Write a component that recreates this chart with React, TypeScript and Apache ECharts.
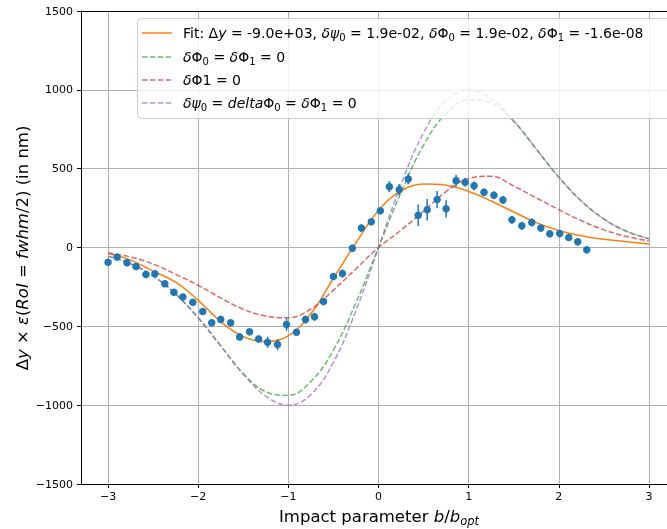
import { useEffect, useRef } from "react";
import * as echarts from "echarts";

// ---- data ----
const pointX = [-3.0, -2.9, -2.79, -2.69, -2.58, -2.48, -2.37, -2.27, -2.17, -2.06, -1.95, -1.85, -1.75, -1.64, -1.54, -1.43, -1.33, -1.23, -1.12, -1.02, -0.91, -0.81, -0.71, -0.61, -0.5, -0.4, -0.29, -0.19, -0.08, 0.02, 0.12, 0.23, 0.33, 0.44, 0.54, 0.65, 0.75, 0.86, 0.96, 1.06, 1.17, 1.28, 1.38, 1.48, 1.59, 1.7, 1.8, 1.9, 2.01, 2.11, 2.21, 2.31];
const pointY = [-94, -61, -96, -121, -171, -167, -230, -284, -314, -347, -406, -478, -456, -478, -567, -535, -580, -601, -616, -488, -538, -457, -439, -343, -184, -165, -4, 123, 163, 233, 386, 367, 435, 204, 240, 304, 245, 424, 414, 391, 350, 331, 302, 176, 138, 159, 123, 87, 89, 63, 36, -15];
const pointErr = [20, 20, 20, 20, 20, 20, 20, 20, 20, 20, 20, 20, 20, 20, 20, 20, 22, 35, 35, 40, 22, 25, 25, 22, 22, 25, 20, 25, 22, 22, 35, 35, 35, 68, 68, 55, 55, 38, 28, 28, 25, 25, 25, 25, 25, 25, 22, 22, 22, 22, 22, 22];

const curveX = [-3, -2.75, -2.5, -2.25, -2, -1.75, -1.5, -1.25, -1, -0.75, -0.5, -0.25, 0, 0.25, 0.5, 0.75, 1, 1.25, 1.5, 1.75, 2, 2.25, 2.5, 2.75, 3];
const fitY = [-37, -80, -150, -220, -335, -470, -565, -597, -560, -420, -195, 30, 235, 360, 402, 395, 355, 295, 225, 158, 108, 75, 52, 37, 22];
const greenY = [-55, -103, -181, -295, -446, -624, -800, -915, -938, -850, -650, -350, 0, 350, 650, 850, 938, 915, 800, 624, 446, 295, 181, 103, 55];
const redY = [-35, -60, -105, -170, -240, -320, -392, -435, -445, -390, -270, -135, 0, 110, 230, 355, 438, 452, 390, 315, 240, 170, 112, 70, 42];
const purpleY = [-55, -103, -181, -295, -446, -624, -803, -943, -1000, -933, -728, -400, 0, 400, 728, 933, 1000, 943, 803, 624, 446, 295, 181, 103, 55];

const xTicks = [-3, -2, -1, 0, 1, 2, 3];
const yTicks = [-1500, -1000, -500, 0, 500, 1000, 1500];

const FONT = "DejaVu Sans";
const C_BLUE = "#1f77b4";
const C_ORANGE = "#ff7f0e";
const C_GREEN = "#2ca02c";
const C_RED = "#d62728";
const C_PURPLE = "#9467bd";
const DASH = [5.5, 2.4];

const fmt = (v: number) => (v < 0 ? "\u2212" + Math.abs(v) : String(v));
const zip = (xs: number[], ys: number[]) => xs.map((x, i) => [x, ys[i]]);

const legendRich = (size: number, sub: number) => ({
  n: { fontSize: size, fontFamily: FONT, color: "#000", lineHeight: 18 },
  i: { fontSize: size, fontFamily: FONT, color: "#000", fontStyle: "italic", lineHeight: 18 },
  s: { fontSize: sub, fontFamily: FONT, color: "#000", lineHeight: 7, verticalAlign: "bottom" },
  si: { fontSize: sub, fontFamily: FONT, color: "#000", fontStyle: "italic", lineHeight: 7, verticalAlign: "bottom" },
});

export default function App() {
  const ref = useRef<HTMLDivElement>(null);
  useEffect(() => {
    const chart = echarts.init(ref.current!, null, { renderer: "svg" });
    const rich14 = legendRich(14, 10);
    const legendRows = [
      { y: 33, color: C_ORANGE, dash: null, opacity: 1, text: "{n|Fit: Δ}{i|y}{n| = -9.0e+03, }{i|δψ}{s|0}{n| = 1.9e-02, }{i|δ}{n|Φ}{s|0}{n| = 1.9e-02, }{i|δ}{n|Φ}{s|1}{n| = -1.6e-08}" },
      { y: 57, color: C_GREEN, dash: DASH, opacity: 0.7, text: "{i|δ}{n|Φ}{s|0}{n| = }{i|δ}{n|Φ}{s|1}{n| = 0}" },
      { y: 80, color: C_RED, dash: DASH, opacity: 0.7, text: "{i|δ}{n|Φ1 = 0}" },
      { y: 103, color: C_PURPLE, dash: DASH, opacity: 0.7, text: "{i|δψ}{s|0}{n| = }{i|delta}{n|Φ}{s|0}{n| = }{i|δ}{n|Φ}{s|1}{n| = 0}" },
    ];
    const graphics: any[] = [
      {
        type: "rect",
        z: 100,
        shape: { x: 137.5, y: 18.5, width: 545, height: 100, r: 4 },
        style: { fill: "rgba(255,255,255,0.8)", stroke: "#cccccc", lineWidth: 1 },
      },
    ];
    legendRows.forEach((r) => {
      graphics.push({
        type: "line",
        z: 101,
        shape: { x1: 142, y1: r.y, x2: 172, y2: r.y },
        style: { stroke: r.color, lineWidth: 1.5, lineDash: r.dash || undefined, opacity: r.opacity },
      });
      graphics.push({
        type: "text",
        z: 101,
        x: 183,
        y: r.y,
        style: { text: r.text, rich: rich14, align: "left", verticalAlign: "middle" },
      });
    });
    const rich16 = {
      n: { fontSize: 16.5, fontFamily: FONT, color: "#000", lineHeight: 22 },
      i: { fontSize: 16.5, fontFamily: FONT, color: "#000", fontStyle: "italic", lineHeight: 22 },
      si: { fontSize: 11.5, fontFamily: FONT, color: "#000", fontStyle: "italic", lineHeight: 8, verticalAlign: "bottom" },
    };
    graphics.push({
      type: "text",
      x: 379,
      y: 516,
      style: { text: "{n|Impact parameter }{i|b}{n|/}{i|b}{si|opt}", rich: rich16, align: "center", verticalAlign: "middle" },
    });
    graphics.push({
      type: "text",
      x: 22,
      y: 248,
      rotation: Math.PI / 2,
      style: { text: "{n|Δ}{i|y}{n| × }{i|ε}{n|(}{i|RoI}{n| = }{i|fwhm}{n|/2) (in nm)}", rich: rich16, align: "center", verticalAlign: "middle" },
    });

    const option: any = {
      animation: false,
      grid: { left: 81, top: 11, right: 0, bottom: 45, containLabel: false },
      xAxis: [
        {
          type: "value",
          min: -3.3,
          max: 3.2,
          axisLine: { show: true, onZero: false, lineStyle: { color: "#000", width: 1 } },
          axisTick: { show: true, length: 4, lineStyle: { color: "#000", width: 1 } },
          axisLabel: {
            show: true,
            margin: 7,
            fontSize: 11,
            fontFamily: FONT,
            color: "#000",
            showMinLabel: false,
            showMaxLabel: false,
            formatter: (v: number) => (xTicks.includes(v) ? fmt(v) : ""),
          },
          splitLine: { show: true, lineStyle: { color: "#b0b0b0", width: 1 } },
        },
        {
          type: "value",
          position: "top",
          min: -3.3,
          max: 3.2,
          axisLine: { show: true, onZero: false, lineStyle: { color: "#000", width: 1 } },
          axisTick: { show: false },
          axisLabel: { show: false },
          splitLine: { show: false },
        },
      ],
      yAxis: {
        type: "value",
        min: yTicks[0],
        max: yTicks[yTicks.length - 1],
        interval: 500,
        axisLine: { show: true, onZero: false, lineStyle: { color: "#000", width: 1 } },
        axisTick: { show: true, length: 4, lineStyle: { color: "#000", width: 1 } },
        axisLabel: { margin: 8, fontSize: 11, fontFamily: FONT, color: "#000", formatter: fmt },
        splitLine: { show: true, lineStyle: { color: "#b0b0b0", width: 1 } },
      },
      series: [
        {
          type: "line",
          data: zip(curveX, fitY),
          smooth: 0.4,
          showSymbol: false,
          lineStyle: { color: C_ORANGE, width: 1.5 },
          z: 2,
        },
        {
          type: "line",
          data: zip(curveX, greenY),
          smooth: 0.4,
          showSymbol: false,
          lineStyle: { color: C_GREEN, width: 1.5, type: DASH, opacity: 0.7 },
          z: 2,
        },
        {
          type: "line",
          data: zip(curveX, redY),
          smooth: 0.4,
          showSymbol: false,
          lineStyle: { color: C_RED, width: 1.5, type: DASH, opacity: 0.7 },
          z: 2,
        },
        {
          type: "line",
          data: zip(curveX, purpleY),
          smooth: 0.4,
          showSymbol: false,
          lineStyle: { color: C_PURPLE, width: 1.5, type: DASH, opacity: 0.7 },
          z: 2,
        },
        {
          type: "custom",
          z: 3,
          data: pointX.map((x, i) => [x, pointY[i], pointErr[i]]),
          encode: { x: 0, y: 1 },
          renderItem: (_p: any, api: any) => {
            const x = api.value(0);
            const y = api.value(1);
            const e = api.value(2);
            const a = api.coord([x, y - e]);
            const b = api.coord([x, y + e]);
            return {
              type: "line",
              shape: { x1: a[0], y1: a[1], x2: b[0], y2: b[1] },
              style: { stroke: C_BLUE, lineWidth: 1.5 },
            };
          },
        },
        {
          type: "scatter",
          z: 4,
          data: zip(pointX, pointY),
          symbol: "circle",
          symbolSize: 7.5,
          itemStyle: { color: C_BLUE, opacity: 1 },
        },
      ],
      graphic: graphics,
    };
    chart.setOption(option);
    return () => chart.dispose();
  }, []);
  return <div ref={ref} style={{ position: "fixed", left: 0, top: 0, width: 667, height: 529 }} />;
}
